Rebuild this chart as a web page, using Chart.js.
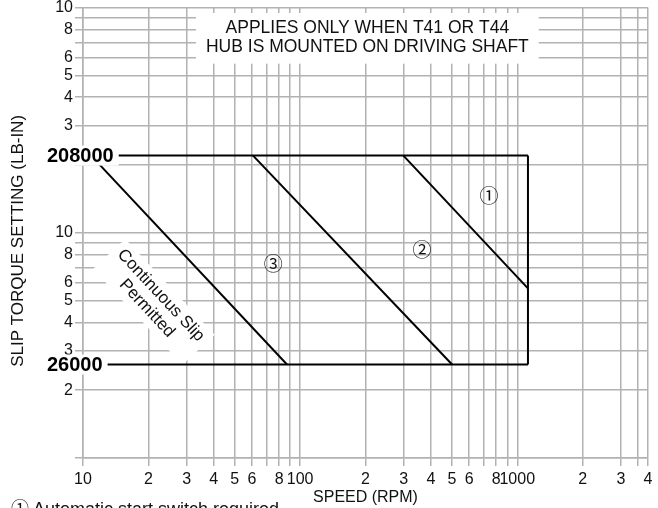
<!DOCTYPE html>
<html>
<head>
<meta charset="utf-8">
<script src="https://cdn.jsdelivr.net/npm/chart.js@4.4.1/dist/chart.umd.min.js"></script>
<style>
  html, body { margin: 0; padding: 0; background: #fff; }
  #wrap { width: 658px; height: 508px; }
</style>
</head>
<body>
<div id="wrap"><canvas id="chart"></canvas></div>
<script>
// axis grid / tick labels
const speedTicks = [10, 20, 30, 40, 50, 60, 70, 80, 90,
  100, 200, 300, 400, 500, 600, 700, 800, 900,
  1000, 2000, 3000, 3600, 4000];
const speedLabels = ['10', '2', '3', '4', '5', '6', '', '8', '',
  '100', '2', '3', '4', '5', '6', '', '8', '',
  '1000', '2', '3', '', '4'];
const torqueTicks = [10000, 20000, 30000, 40000, 50000, 60000, 70000, 80000, 90000,
  100000, 200000, 300000, 400000, 500000, 600000, 700000, 800000, 900000, 1000000];
const torqueLabels = ['', '2', '3', '4', '5', '6', '', '8', '',
  '10', '', '3', '4', '5', '6', '', '8', '', '10'];

// envelope of the operating area
const limitTorque = [220000, 26000];
const limitLabels = ['208000', '26000'];
const topSpeed = [10.9, 1120];
const bottomSpeed = [10, 1120];
const rightSpeed = [1120, 1120];
const rightTorque = [220000, 26000];

// slip limit lines
const curve3Speed = [10.9, 87];
const curve3Torque = [220000, 26000];
const curve2Speed = [60.7, 501];
const curve2Torque = [220000, 26000];
const curve1Speed = [299, 1120];
const curve1Torque = [220000, 56600];

// annotations
const zoneNames = ['①', '②', '③'];
const zoneSpeed = [741, 364, 75.2];
const zoneTorque = [146000, 83600, 73000];
const noticeLines = ['APPLIES ONLY WHEN T41 OR T44', 'HUB IS MOUNTED ON DRIVING SHAFT'];
const noticeSpeed = 204;
const noticeTorque = [811000, 670000];
const slipLines = ['Continuous Slip', 'Permitted'];
const slipSpeed = 21.2;
const slipTorque = 49300;
const yTitle = 'SLIP TORQUE SETTING (LB-IN)';
const yTitleTorque = 92000;
const footnote = '① Automatic start switch required';

const FONT = "'Liberation Sans', Arial, sans-serif";
const CIRCLE_FONT = "'Noto Sans CJK JP', 'DejaVu Sans', sans-serif";
const GRID = '#b2b2b2';

const pts = (xs, ys) => xs.map((v, i) => ({ x: v, y: ys[i] }));
const line = (data) => ({
  data, showLine: true, borderColor: '#000', borderWidth: 2,
  pointRadius: 0, fill: false, tension: 0
});

const overlay = {
  id: 'overlay',
  beforeDatasetsDraw(chart) {
    const { ctx, scales: { x, y } } = chart;
    ctx.save();
    ctx.fillStyle = '#fff';

    // notice box
    ctx.font = '17.5px ' + FONT;
    const w = Math.max(...noticeLines.map(t => ctx.measureText(t).width));
    const cx = x.getPixelForValue(noticeSpeed);
    const y1 = y.getPixelForValue(noticeTorque[0]);
    const y2 = y.getPixelForValue(noticeTorque[1]);
    ctx.fillRect(cx - w / 2 - 10, y1 - 15, w + 20, y2 - y1 + 32);

    // rotated "continuous slip" box
    ctx.font = '17px ' + FONT;
    const sw = Math.max(...slipLines.map(t => ctx.measureText(t).width));
    ctx.translate(x.getPixelForValue(slipSpeed), y.getPixelForValue(slipTorque));
    ctx.rotate(47 * Math.PI / 180);
    ctx.fillRect(-sw / 2 - 6, -22, sw + 12, 44);
    ctx.restore();
  },
  afterDatasetsDraw(chart) {
    const { ctx, scales: { x, y } } = chart;
    ctx.save();
    ctx.fillStyle = '#111';
    ctx.textAlign = 'center';
    ctx.textBaseline = 'middle';

    ctx.font = '17.5px ' + FONT;
    const cx = x.getPixelForValue(noticeSpeed);
    noticeLines.forEach((t, i) => ctx.fillText(t, cx, y.getPixelForValue(noticeTorque[i])));

    ctx.font = '19px ' + CIRCLE_FONT;
    zoneNames.forEach((t, i) =>
      ctx.fillText(t, x.getPixelForValue(zoneSpeed[i]), y.getPixelForValue(zoneTorque[i])));

    ctx.save();
    ctx.font = '17px ' + FONT;
    ctx.translate(x.getPixelForValue(slipSpeed), y.getPixelForValue(slipTorque));
    ctx.rotate(47 * Math.PI / 180);
    ctx.fillText(slipLines[0], 0, -9.5);
    ctx.fillText(slipLines[1], 0, 9.5);
    ctx.restore();

    // y axis title
    ctx.save();
    ctx.font = '17px ' + FONT;
    ctx.translate(18, y.getPixelForValue(yTitleTorque));
    ctx.rotate(-Math.PI / 2);
    ctx.fillText(yTitle, 0, 0);
    ctx.restore();

    // bold limit labels
    ctx.font = 'bold 20px ' + FONT;
    ctx.textAlign = 'left';
    limitLabels.forEach((t, i) => {
      const py = y.getPixelForValue(limitTorque[i]);
      const tw = ctx.measureText(t).width;
      ctx.fillStyle = '#fff';
      ctx.fillRect(44, py - 10, tw + 8, 20);
      ctx.fillStyle = '#000';
      ctx.fillText(t, 47, py + 1);
    });

    // footnote (cut off by bottom edge)
    ctx.fillStyle = '#111';
    ctx.textBaseline = 'alphabetic';
    ctx.font = '18px ' + CIRCLE_FONT;
    ctx.fillText(footnote.slice(0, 1), 11, chart.height + 7);
    ctx.font = '18px ' + FONT;
    ctx.fillText(footnote.slice(1), 28, chart.height + 7);
    ctx.restore();
  }
};

new Chart(document.getElementById('chart'), {
  type: 'scatter',
  data: {
    datasets: [
      line(pts(topSpeed, [limitTorque[0], limitTorque[0]])),
      line(pts(bottomSpeed, [limitTorque[1], limitTorque[1]])),
      line(pts(rightSpeed, rightTorque)),
      line(pts(curve3Speed, curve3Torque)),
      line(pts(curve2Speed, curve2Torque)),
      line(pts(curve1Speed, curve1Torque))
    ]
  },
  options: {
    responsive: true,
    maintainAspectRatio: false,
    animation: false,
    layout: { padding: { top: 0, right: 10, left: 0, bottom: 0 } },
    plugins: { legend: { display: false }, tooltip: { enabled: false } },
    scales: {
      x: {
        type: 'logarithmic',
        min: 10,
        max: 4000,
        afterBuildTicks: (axis) => { axis.ticks = speedTicks.map(v => ({ value: v })); },
        afterFit: (axis) => { axis.height = 50; axis.paddingLeft = 0; axis.paddingRight = 0; },
        ticks: {
          autoSkip: false, maxRotation: 0, minRotation: 0, padding: 4,
          color: '#111', font: { family: FONT, size: 16 },
          callback: (v, i) => speedLabels[i]
        },
        grid: { color: GRID, lineWidth: 1.5, tickLength: 8 },
        border: { color: GRID, width: 1.5 },
        title: {
          display: true, text: 'SPEED (RPM)', color: '#111',
          font: { family: FONT, size: 16 }, padding: { top: 0, bottom: 1 }
        }
      },
      y: {
        type: 'logarithmic',
        min: 10000,
        max: 1000000,
        afterBuildTicks: (axis) => { axis.ticks = torqueTicks.map(v => ({ value: v })); },
        afterFit: (axis) => { axis.width = 83; axis.paddingTop = 7.5; axis.paddingBottom = 0; },
        ticks: {
          autoSkip: false, padding: 2,
          color: '#111', font: { family: FONT, size: 16 },
          callback: (v, i) => torqueLabels[i]
        },
        grid: { color: GRID, lineWidth: 1.5, tickLength: 8 },
        border: { color: GRID, width: 1.5 }
      }
    }
  },
  plugins: [overlay]
});
</script>
</body>
</html>
